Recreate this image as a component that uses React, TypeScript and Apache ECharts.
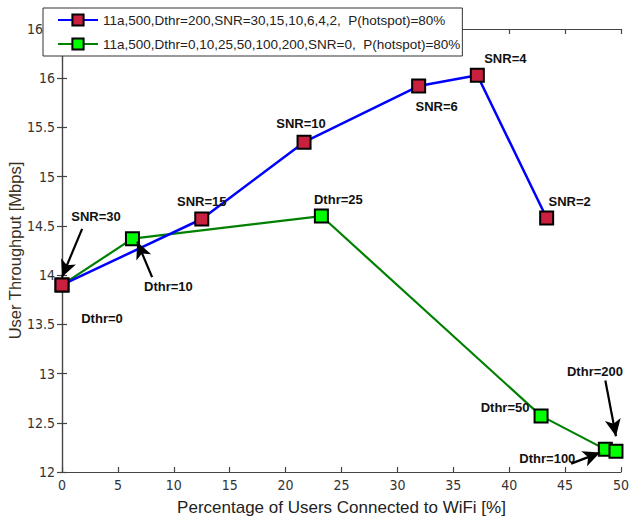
import React, { useEffect, useRef } from "react";
import * as echarts from "echarts";

// Percentage of users on WiFi vs. user throughput, for two sweeps
const snrNames = ["SNR=30", "SNR=15", "SNR=10", "SNR=6", "SNR=4", "SNR=2"];
const snrX = [0, 12.5, 21.65, 31.9, 37.15, 43.35];
const snrY = [13.9, 14.57, 15.35, 15.92, 16.03, 14.58];

const dthrNames = ["Dthr=0", "Dthr=10", "Dthr=25", "Dthr=50", "Dthr=100", "Dthr=200"];
const dthrX = [0, 6.3, 23.2, 42.85, 48.6, 49.55];
const dthrY = [13.9, 14.37, 14.6, 12.57, 12.23, 12.21];

const snrSeriesName = "11a,500,Dthr=200,SNR=30,15,10,6,4,2, \u00a0P(hotspot)=80%";
const dthrSeriesName = "11a,500,Dthr=0,10,25,50,100,200,SNR=0, \u00a0P(hotspot)=80%";

const xTicks = [0, 50, 5];
const yTicks = [12, 16.5, 0.5];

// pixel offsets of each point's annotation text
const snrLabelOffsets = [[34, -68], [0, -17], [-3, -19], [18, 20], [28, -17], [23, -17]];
const dthrLabelOffsets = [[40, 34], [36, 48], [17, -17], [-36, -8], [-58, 9], [-21, -80]];

// callout arrows: [tailX, tailY, tipX, tipY] in data units
const snrArrows = [[1.8, 14.47, 0, 13.98]];
const dthrArrows = [
  [8.06, 13.98, 6.72, 14.34],
  [45.54, 12.085, 48.13, 12.197],
  [48.6, 12.93, 49.55, 12.363],
];

const font = "Arial, 'Liberation Sans', sans-serif";
const narrowFont = "'Liberation Sans Narrow', 'Arial Narrow', 'DejaVu Sans Condensed', Arial, sans-serif";

function points(xs: number[], ys: number[], names: string[], offsets: number[][]) {
  return xs.map((x, i) => ({
    value: [x, ys[i]],
    label: { offset: offsets[i], formatter: names[i] },
  }));
}

function arrows(list: number[][]) {
  return list.map(([x1, y1, x2, y2]) => [
    { coord: [x1, y1], symbol: "none" },
    { coord: [x2, y2], symbol: "arrow" },
  ]);
}

const arrowMarkLine = (list: number[][]) => ({
  silent: true,
  animation: false,
  symbolSize: [12, 17],
  label: { show: false },
  emphasis: { disabled: true },
  lineStyle: { color: "#000", width: 2.2, type: "solid" },
  data: arrows(list),
});

const pointLabel = {
  show: true,
  position: "inside",
  color: "#111",
  fontFamily: font,
  fontWeight: "bold",
  fontSize: 13,
};

export default function App() {
  const ref = useRef<HTMLDivElement>(null);

  useEffect(() => {
    if (!ref.current) return;
    const chart = echarts.init(ref.current, null, { renderer: "svg" });
    const axisLine = { lineStyle: { color: "#444", width: 1.2 } };
    const tick = { inside: true, length: 5, lineStyle: { color: "#444", width: 1.2 } };
    const tickLabel = { fontFamily: narrowFont, fontSize: 14, color: "#333" };
    chart.setOption({
      animation: false,
      backgroundColor: "#fff",
      grid: {
        left: 62,
        right: 8,
        top: 29,
        bottom: 48,
        containLabel: false,
        outerBoundsMode: "none",
      },
      legend: {
        data: [snrSeriesName, dthrSeriesName],
        orient: "vertical",
        left: 43,
        top: 8,
        padding: [5, 2, 5, 14],
        itemGap: 10,
        itemWidth: 40,
        itemHeight: 14,
        backgroundColor: "#fff",
        borderColor: "#333",
        borderWidth: 1,
        borderRadius: 0,
        textStyle: { fontFamily: font, fontSize: 13.5, color: "#222" },
      },
      xAxis: [
        {
          type: "value",
          min: xTicks[0],
          max: xTicks[1],
          interval: xTicks[2],
          name: "Percentage of Users Connected to WiFi [%]",
          nameLocation: "middle",
          nameGap: 27,
          nameMoveOverlap: false,
          nameTextStyle: { fontFamily: font, fontSize: 17, color: "#222" },
          axisLine,
          axisTick: tick,
          axisLabel: { ...tickLabel, margin: 6 },
          splitLine: { show: false },
        },
        {
          type: "value",
          position: "top",
          min: xTicks[0],
          max: xTicks[1],
          interval: xTicks[2],
          axisLine,
          axisTick: tick,
          axisLabel: { show: false },
          splitLine: { show: false },
        },
      ],
      yAxis: [
        {
          type: "value",
          min: yTicks[0],
          max: yTicks[1],
          interval: yTicks[2],
          name: "User Throughput [Mbps]",
          nameLocation: "middle",
          nameGap: 39,
          nameMoveOverlap: false,
          nameTextStyle: { fontFamily: font, fontSize: 16.5, color: "#3a3020" },
          axisLine,
          axisTick: tick,
          axisLabel: { ...tickLabel, margin: 7 },
          splitLine: { show: false },
        },
        {
          type: "value",
          position: "right",
          min: yTicks[0],
          max: yTicks[1],
          interval: yTicks[2],
          axisLine,
          axisTick: tick,
          axisLabel: { show: false },
          splitLine: { show: false },
        },
      ],
      series: [
        {
          name: dthrSeriesName,
          type: "line",
          symbol: "rect",
          symbolSize: 13,
          lineStyle: { color: "#008000", width: 2.2 },
          itemStyle: { color: "#00ff00", borderColor: "#000", borderWidth: 2 },
          label: pointLabel,
          data: points(dthrX, dthrY, dthrNames, dthrLabelOffsets),
          markLine: arrowMarkLine(dthrArrows),
          z: 3,
        },
        {
          name: snrSeriesName,
          type: "line",
          symbol: "rect",
          symbolSize: 13,
          lineStyle: { color: "#0000ff", width: 2.5 },
          itemStyle: { color: "#c8203e", borderColor: "#000", borderWidth: 2 },
          label: pointLabel,
          data: points(snrX, snrY, snrNames, snrLabelOffsets),
          markLine: arrowMarkLine(snrArrows),
          z: 4,
        },
      ],
    });
    return () => chart.dispose();
  }, []);

  return (
    <div
      ref={ref}
      style={{ position: "absolute", left: 0, top: 0, width: 629, height: 520 }}
    />
  );
}
